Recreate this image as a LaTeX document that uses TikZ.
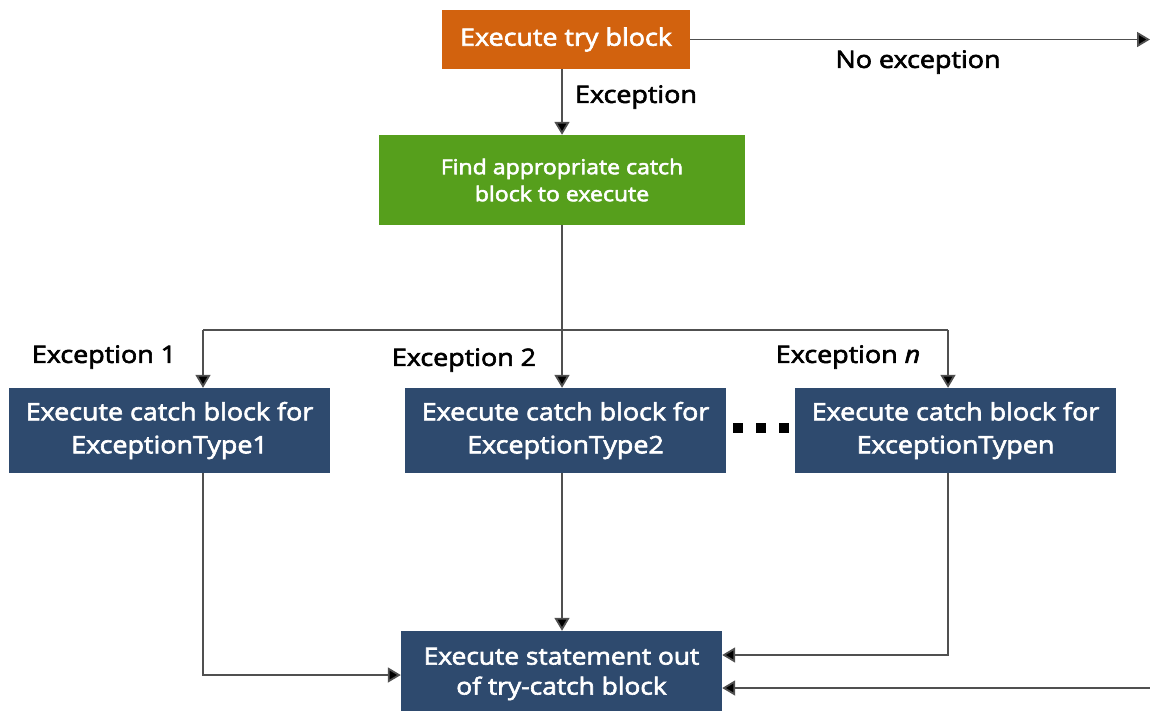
\documentclass[tikz,border=0pt]{standalone}
\usepackage{fontspec}
\setmainfont{Open Sans}[FakeBold=2.6, FakeStretch=1.12]
\usetikzlibrary{arrows.meta}
\definecolor{tryorange}{HTML}{D2620E}
\definecolor{findgreen}{HTML}{569F1C}
\definecolor{catchblue}{HTML}{2E4A6E}
\definecolor{linegray}{HTML}{505050}
\tikzset{
  box/.style={draw=none, text=white, align=center, inner sep=0pt},
  trybox/.style={box, fill=tryorange, minimum width=248pt, minimum height=59pt, font=\fontsize{24}{28}\selectfont},
  findbox/.style={box, fill=findgreen, minimum width=366pt, minimum height=90pt, font=\fontsize{20.6}{27}\selectfont},
  catchbox/.style={box, fill=catchblue, minimum width=321pt, minimum height=85pt, font=\fontsize{24}{33}\selectfont},
  outbox/.style={box, fill=catchblue, minimum width=321pt, minimum height=86pt, font=\fontsize{23.5}{30}\selectfont},
  lbl/.style={text=black, inner sep=0pt, font=\fontsize{24}{28}\selectfont},
  conn/.style={draw=linegray, line width=1.8pt},
  arr/.style={conn, -{Triangle[width=15pt,length=13pt,fill=black]}},
  dot/.style={fill=black}
}
\begin{document}
\begin{tikzpicture}[x=1pt,y=-1pt]
\useasboundingbox (0,0) rectangle (1150,710);
\fill[white] (0,0) rectangle (1150,710);

\node[trybox] (try) at (566,39.5) {Execute try block};
\node[findbox] (find) at (562,180) {Find appropriate catch\\block to execute};
\node[catchbox] (c1) at (169.5,430.5) {Execute catch block for\\ExceptionType1};
\node[catchbox] (c2) at (565.5,430.5) {Execute catch block for\\ExceptionType2};
\node[catchbox] (cn) at (955.5,430.5) {Execute catch block for\\ExceptionTypen};
\node[outbox] (out) at (561.5,674) {Execute statement out\\of try-catch block};

\coordinate (ne) at (1150,39.5);
\coordinate (se) at (1150,688);
\coordinate (b1) at (203,330);
\coordinate (bn) at (948,330);

% no exception
\draw[arr] (try.east) -- (ne);
\node[lbl] (lno) at (918,62) {No exception};
% exception
\draw[arr] (find.north |- try.south) -- (find.north);
\node[lbl] (lex) at (636,97) {Exception};
% branch
\draw[conn] (find.south) -- (find.south |- b1);
\draw[conn] (b1) -- (bn);
\draw[arr] (b1) -- (b1 |- c1.north);
\draw[arr] (find.south |- b1) -- (find.south |- c2.north);
\draw[arr] (bn) -- (bn |- cn.north);
\node[lbl] (l1) at (104,357) {Exception 1};
\node[lbl] (l2) at (464,360) {Exception 2};
\node[lbl] (ln) at (848,357) {Exception \textit{n}};
% dots
\fill[dot] (733,423) rectangle (743,433);
\fill[dot] (756,423) rectangle (766,433);
\fill[dot] (779,423) rectangle (789,433);
% to out
\draw[arr] (b1 |- c1.south) |- ([yshift=-1pt]out.west);
\draw[arr] (find.south |- c2.south) -- (find.south |- out.north);
\draw[arr] (bn |- cn.south) |- ([yshift=19pt]out.east);
\draw[arr] (se) -- (out.east |- se);
\end{tikzpicture}
\end{document}
